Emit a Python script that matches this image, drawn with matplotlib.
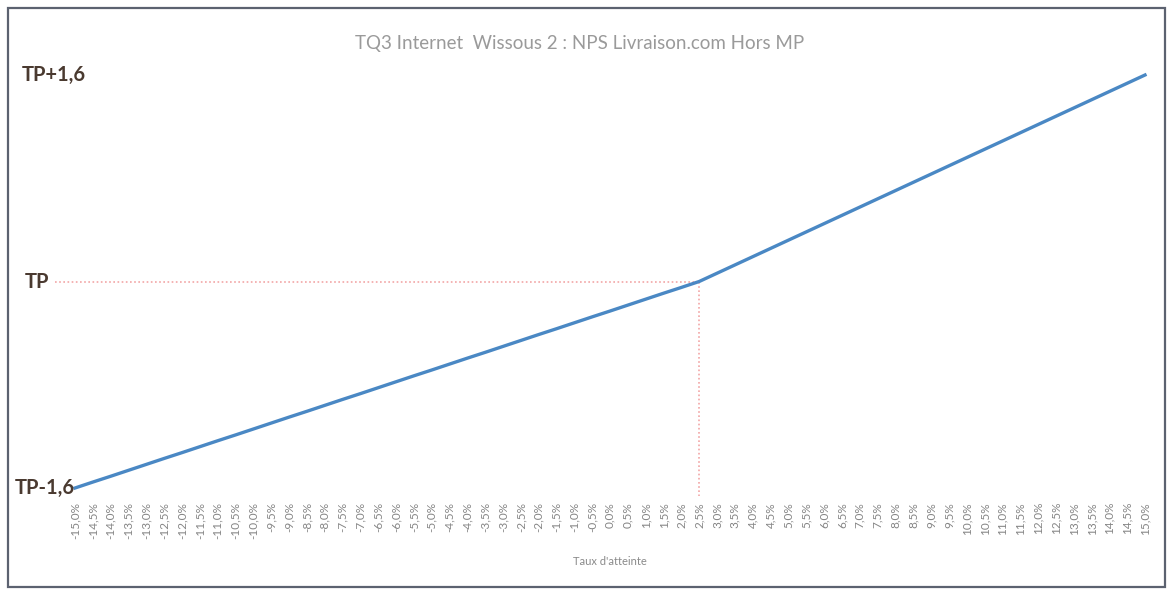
import matplotlib.pyplot as plt
from matplotlib.patches import Rectangle

plt.rcParams['font.family'] = ['Lato', 'DejaVu Sans']

# =============================================================================
# Data
# =============================================================================

rates = [
    "-15,0%", "-14,5%", "-14,0%", "-13,5%", "-13,0%", "-12,5%", "-12,0%",
    "-11,5%", "-11,0%", "-10,5%", "-10,0%", "-9,5%", "-9,0%", "-8,5%",
    "-8,0%", "-7,5%", "-7,0%", "-6,5%", "-6,0%", "-5,5%", "-5,0%", "-4,5%",
    "-4,0%", "-3,5%", "-3,0%", "-2,5%", "-2,0%", "-1,5%", "-1,0%", "-0,5%",
    "0,0%", "0,5%", "1,0%", "1,5%", "2,0%", "2,5%", "3,0%", "3,5%", "4,0%",
    "4,5%", "5,0%", "5,5%", "6,0%", "6,5%", "7,0%", "7,5%", "8,0%", "8,5%",
    "9,0%", "9,5%", "10,0%", "10,5%", "11,0%", "11,5%", "12,0%", "12,5%",
    "13,0%", "13,5%", "14,0%", "14,5%", "15,0%",
]

# NPS offset from target (TP)
nps_offset = [
    -1.600, -1.554, -1.509, -1.463, -1.417, -1.371, -1.326, -1.280, -1.234,
    -1.189, -1.143, -1.097, -1.051, -1.006, -0.960, -0.914, -0.869, -0.823,
    -0.777, -0.731, -0.686, -0.640, -0.594, -0.549, -0.503, -0.457, -0.411,
    -0.366, -0.320, -0.274, -0.229, -0.183, -0.137, -0.091, -0.046, 0.000,
    0.064, 0.128, 0.192, 0.256, 0.320, 0.384, 0.448, 0.512, 0.576, 0.640,
    0.704, 0.768, 0.832, 0.896, 0.960, 1.024, 1.088, 1.152, 1.216, 1.280,
    1.344, 1.408, 1.472, 1.536, 1.600,
]

y_tick_values = [-1.6, 0.0, 1.6]
y_tick_labels = ["TP-1,6", "TP", "TP+1,6"]

target_rate = "2,5%"

# =============================================================================
# Figure
# =============================================================================

fig = plt.figure(figsize=(11.71, 5.91), dpi=100)
ax = fig.add_axes([75 / 1171, 1 - 488 / 591, 1070 / 1171, 413 / 591])

x = list(range(len(rates)))
ax.plot(x, nps_offset, color="#4a88c4", linewidth=2.4, zorder=3,
        clip_on=False)

# target guides
target_index = rates.index(target_rate)
target_value = nps_offset[target_index]
ax.plot([-1.1, target_index], [target_value, target_value],
        color="#f2a5a5", linewidth=1.2, linestyle=(0, (1, 1.5)),
        clip_on=False, zorder=2)
ax.plot([target_index, target_index], [target_value, -1.66],
        color="#f2a5a5", linewidth=1.2, linestyle=(0, (1, 1.5)),
        clip_on=False, zorder=2)

ax.set_xlim(0, len(rates) - 1)
ax.set_ylim(-1.6, 1.6)
ax.set_xticks(x)
ax.set_xticklabels(rates, rotation=90, fontsize=8.5, color="#858585")
ax.tick_params(axis="x", length=0, pad=10)
ax.set_yticks([])
for side in ax.spines.values():
    side.set_visible(False)

label_offsets = [-60, -50, -53]
for value, label, offset in zip(y_tick_values, y_tick_labels, label_offsets):
    ax.text(offset / 1070, value, label, transform=ax.get_yaxis_transform(),
            ha="left", va="center", fontsize=14.5, fontweight="bold",
            color="#4a3a30", zorder=4)

ax.set_xlabel("Taux d'atteinte", fontsize=8, color="#8a8a8a", labelpad=12)

fig.text(580 / 1171, 1 - 43 / 591,
         "TQ3 Internet  Wissous 2 : NPS Livraison.com Hors MP",
         ha="center", va="center", fontsize=13.5, color="#9a9a9a")

fig.patches.append(Rectangle((8 / 1171, 4 / 591), 1157 / 1171, 579 / 591,
                             transform=fig.transFigure, fill=False,
                             edgecolor="#5c6270", linewidth=1.6))

fig.savefig("out.png", dpi=100)
